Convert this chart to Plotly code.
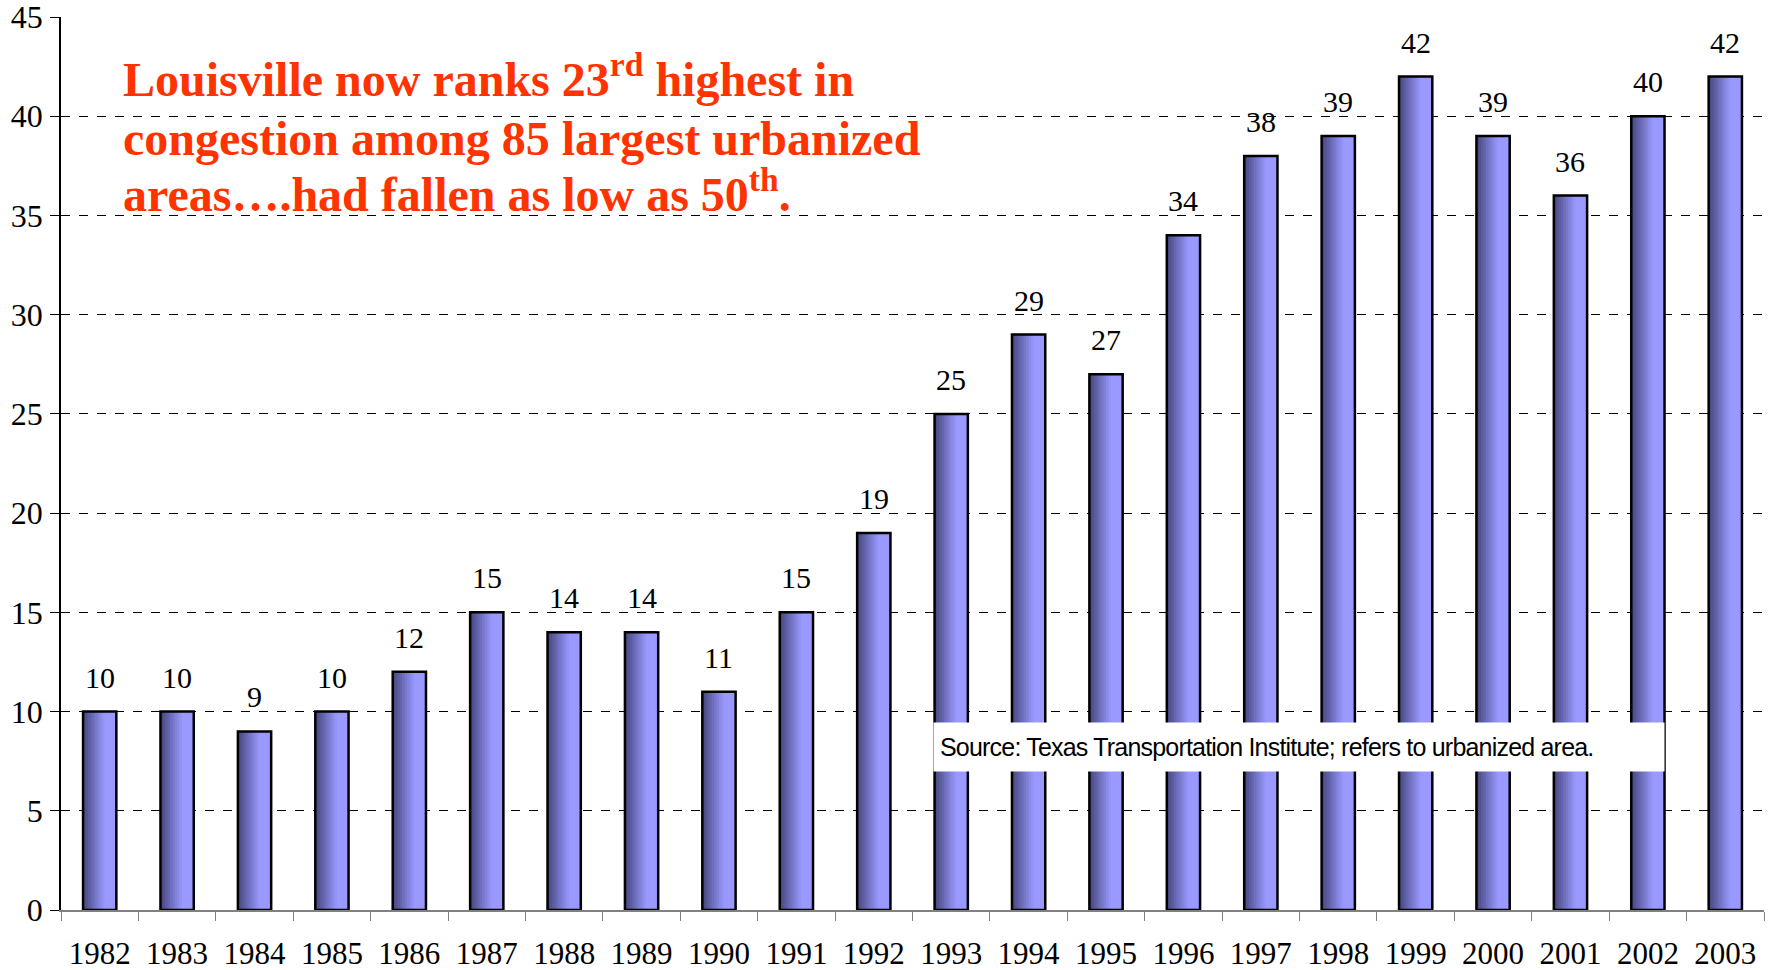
import plotly.graph_objects as go

years = ["1982", "1983", "1984", "1985", "1986", "1987", "1988", "1989", "1990", "1991", "1992",
         "1993", "1994", "1995", "1996", "1997", "1998", "1999", "2000", "2001", "2002", "2003"]
ranks = [10, 10, 9, 10, 12, 15, 14, 14, 11, 15, 19, 25, 29, 27, 34, 38, 39, 42, 39, 36, 40, 42]
y_ticks = [0, 5, 10, 15, 20, 25, 30, 35, 40, 45]

headline_lines = [
    "<b>Louisville now ranks 23<sup>rd</sup> highest in</b>",
    "<b>congestion among 85 largest urbanized</b>",
    "<b>areas….had fallen as low as 50<sup>th</sup>.</b>",
]
source_note = "Source: Texas Transportation Institute; refers to urbanized area."

BAR_W = 0.43
N = 14
dark = (70, 70, 125)
light = (153, 153, 255)

fig = go.Figure()
for i in range(N):
    t = min(1.0, (i + 0.5) / N / 0.65)
    c = tuple(int(dark[k] + (light[k] - dark[k]) * t) for k in range(3))
    fig.add_trace(go.Bar(
        x=years, y=ranks,
        width=BAR_W / N * 1.6 if i < N - 1 else BAR_W / N,
        offset=-BAR_W / 2 + i * BAR_W / N,
        marker=dict(color="rgb(%d,%d,%d)" % c, line=dict(width=0)),
        hoverinfo="skip", showlegend=False,
    ))
fig.add_trace(go.Bar(
    x=years, y=ranks, width=BAR_W, offset=-BAR_W / 2,
    marker=dict(color="rgba(0,0,0,0)", line=dict(color="black", width=2.5)),
    showlegend=False,
))

annotations = []
for idx, v in enumerate(ranks):
    annotations.append(dict(
        x=idx, y=v, xref="x", yref="y", text=str(v), showarrow=False,
        yanchor="bottom", yshift=16,
        font=dict(family="Liberation Serif", size=30, color="black"),
    ))
line_y = [0.9335, 0.8634, 0.8046]
for txt, yy in zip(headline_lines, line_y):
    annotations.append(dict(
        x=0.035, y=yy, xref="paper", yref="paper", xanchor="left", yanchor="middle",
        text=txt, showarrow=False, align="left",
        font=dict(family="Liberation Serif", size=48, color="#FF3300"),
    ))
annotations.append(dict(
    x=0.512, y=0.1825, xref="paper", yref="paper", xanchor="left", yanchor="middle",
    text='<span style="letter-spacing:-0.8px">' + source_note + "</span>",
    showarrow=False, align="left", bgcolor="white",
    width=718, height=36, borderpad=6,
    font=dict(family="Liberation Sans", size=25, color="black"),
))

fig.update_layout(
    width=1772, height=970,
    margin=dict(l=61, r=8, t=17, b=60),
    paper_bgcolor="white", plot_bgcolor="white",
    barmode="overlay",
    annotations=annotations,
    xaxis=dict(
        type="category", automargin=False, showgrid=False, showline=True,
        linecolor="#808080", linewidth=1.5,
        ticks="outside", tickson="boundaries", ticklen=9, tickcolor="#808080",
        ticklabelstandoff=15,
        tickfont=dict(family="Liberation Serif", size=31, color="black"),
        range=[-0.5, len(years) - 0.5],
    ),
    yaxis=dict(
        range=[0, 45], tickvals=y_ticks, automargin=False, showgrid=True,
        gridcolor="black", griddash="dash", ticklabeloverflow="allow",
        gridwidth=1, showline=True, linecolor="black", linewidth=1.5,
        ticks="outside", ticklen=9, tickcolor="black", zeroline=False,
        ticklabelstandoff=1,
        tickfont=dict(family="Liberation Serif", size=32, color="black"),
    ),
)

fig.write_html("out.html", config={"displayModeBar": False},
               post_script="document.body.style.margin='0';")
